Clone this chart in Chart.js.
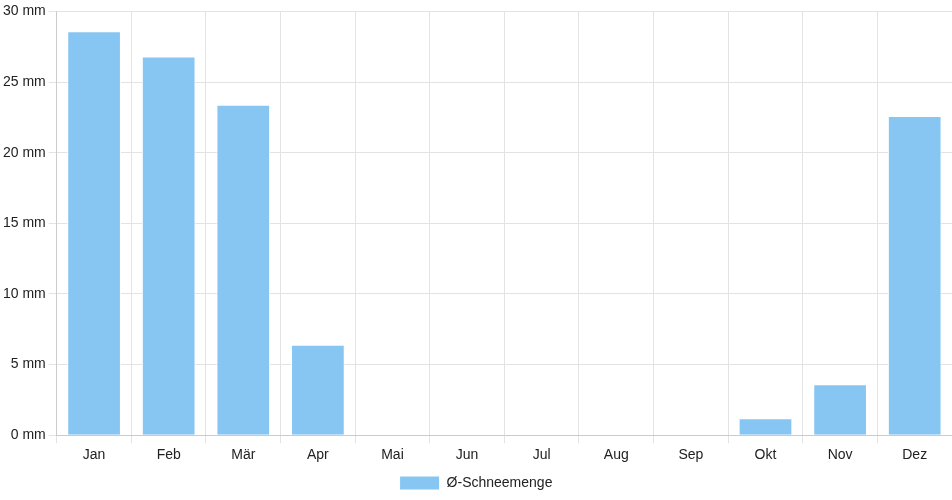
<!DOCTYPE html>
<html>
<head>
<meta charset="utf-8">
<script src="https://cdn.jsdelivr.net/npm/chart.js@4/dist/chart.umd.min.js"></script>
<style>
  html, body { margin: 0; padding: 0; background: #fff; }
  #wrap { width: 952px; height: 500px; }
</style>
</head>
<body>
<div id="wrap"><canvas id="chart-bar"></canvas></div>
<script>
var months = ["Jan", "Feb", "Mär", "Apr", "Mai", "Jun", "Jul", "Aug", "Sep", "Okt", "Nov", "Dez"];
var snowAmount = [28.6, 26.8, 23.4, 6.4, 0, 0, 0, 0, 0, 1.2, 3.6, 22.6];
var seriesLabel = "Ø-Schneemenge";

Chart.defaults.font.family = "'Liberation Sans', Arial, sans-serif";
Chart.defaults.font.size = 14;
Chart.defaults.color = "#222";

var ctx = document.getElementById("chart-bar").getContext("2d");
var myChart = new Chart(ctx, {
    type: "bar",
    data: {
        labels: months,
        datasets: [{
            label: seriesLabel,
            data: snowAmount,
            backgroundColor: "#87c6f2",
            borderColor: "#ffffff",
            borderWidth: 1
        }]
    },
    options: {
        responsive: true,
        maintainAspectRatio: false,
        animation: false,
        layout: { padding: { top: 4, right: 0, bottom: 0, left: 0 } },
        plugins: {
            legend: {
                position: "bottom",
                labels: { boxWidth: 40, boxHeight: 14, padding: 8 }
            },
            tooltip: { enabled: false }
        },
        scales: {
            y: {
                min: 0,
                max: 30,
                ticks: {
                    stepSize: 5,
                    callback: function (v) { return v + " mm"; }
                },
                grid: { color: "#e3e3e3" }
            },
            x: {
                grid: { color: "#e3e3e3", offset: true },
                ticks: { padding: 4 }
            }
        }
    }
});
</script>
</body>
</html>
